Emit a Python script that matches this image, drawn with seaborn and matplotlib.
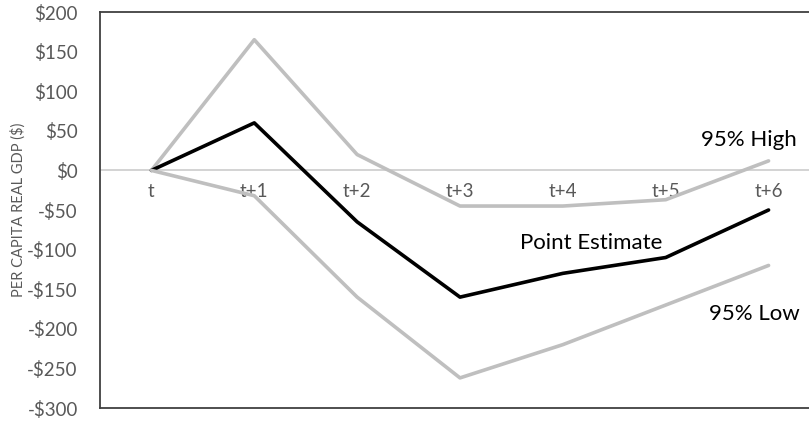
import matplotlib
matplotlib.use("Agg")
import matplotlib.pyplot as plt
import seaborn as sns
import pandas as pd
import numpy as np

periods = ["t", "t+1", "t+2", "t+3", "t+4", "t+5", "t+6"]
high_95 = [0, 165, 20, -45, -45, -37, 12]
point_estimate = [0, 60, -65, -160, -130, -110, -50]
low_95 = [0, -32, -160, -262, -220, -170, -120]
y_ticks = [200, 150, 100, 50, 0, -50, -100, -150, -200, -250, -300]

sns.set_theme(style="white")
plt.rcParams["font.family"] = ["Lato", "DejaVu Sans"]

df = pd.DataFrame({
    "period": np.arange(len(periods)).tolist() * 3,
    "value": high_95 + point_estimate + low_95,
    "series": ["95% High"] * 7 + ["Point Estimate"] * 7 + ["95% Low"] * 7,
})

fig = plt.figure(figsize=(8.09, 4.24), dpi=100)
# axes box runs past the right edge of the figure
ax = fig.add_axes([100 / 809, (424 - 408) / 424, 720 / 809, 396 / 424])

palette = {"95% High": "#BFBFBF", "Point Estimate": "#000000", "95% Low": "#BFBFBF"}
ax.axhline(0, color="#D0D0D0", lw=1.3, zorder=1)
sns.lineplot(data=df, x="period", y="value", hue="series", palette=palette,
             linewidth=2.6, legend=False, ax=ax, zorder=3)

ax.set_xlim(-0.5, 6.5)
ax.set_ylim(-300, 200)
ax.set_yticks(y_ticks)
ax.set_yticklabels([f"${v}" if v >= 0 else f"-${-v}" for v in y_ticks],
                   fontsize=13.5, color="#595959")
ax.set_xticks([])
ax.set_xlabel("")
ax.set_ylabel("PER CAPITA REAL GDP ($)", fontsize=10.5, color="#595959")
ax.yaxis.set_label_coords(-74 / 720, 0.5)
ax.tick_params(axis="y", length=0, pad=16)

# category labels sit just under the zero line
for i, lab in enumerate(periods):
    ax.text(i, -27, lab, ha="center", va="center", fontsize=13.5, color="#595959", zorder=2)

for side in ["left", "top", "bottom"]:
    ax.spines[side].set_visible(True)
    ax.spines[side].set_color("#404040")
    ax.spines[side].set_linewidth(1.3)
ax.spines["right"].set_visible(False)

ax.text(5.81, 38, "95% High", ha="center", va="center", fontsize=16, color="#000000")
ax.text(4.28, -92, "Point Estimate", ha="center", va="center", fontsize=16, color="#000000")
ax.text(5.86, -181, "95% Low", ha="center", va="center", fontsize=16, color="#000000")

fig.savefig("out.png", dpi=100)
